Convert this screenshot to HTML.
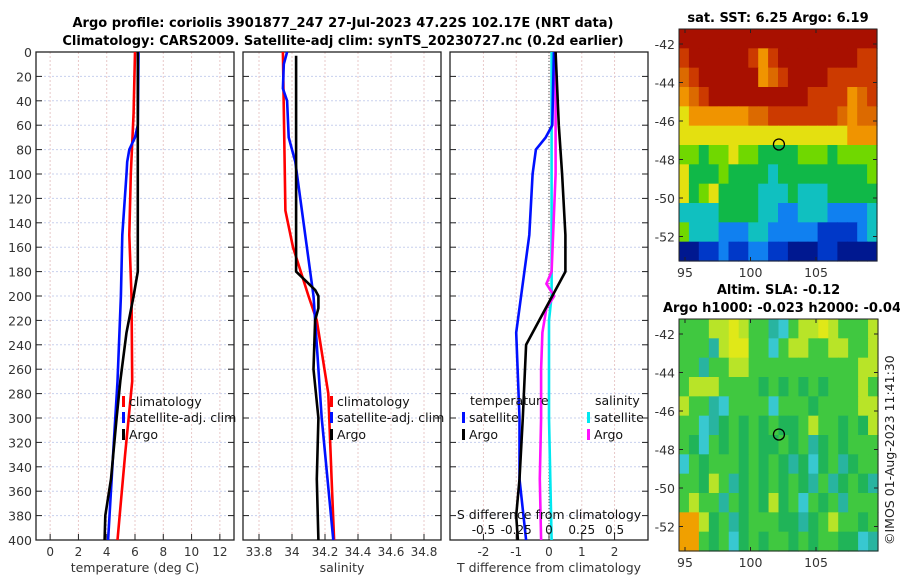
<!DOCTYPE html>
<html><head><meta charset="utf-8">
<style>
html,body{margin:0;padding:0;background:#fff;}
svg{display:block;font-family:"DejaVu Sans","Liberation Sans",sans-serif;}
</style></head>
<body>
<svg id="chart" width="900" height="580" viewBox="0 0 900 580" xmlns="http://www.w3.org/2000/svg">
<g font-weight="bold" font-size="13" text-anchor="middle" fill="#000">
<text x="343" y="27">Argo profile: coriolis 3901877_247 27-Jul-2023 47.22S 102.17E (NRT data)</text>
<text x="343" y="45">Climatology: CARS2009. Satellite-adj clim: synTS_20230727.nc (0.2d earlier)</text>
</g>
<g id="plots"></g>
</svg>
<script>
// ---- data ----
const tClimDepth=[0,50,100,150,200,270,330,400];
const tClim=[6.0,5.9,5.7,5.6,5.75,5.8,5.3,4.76];
const tSatDepth=[0,60,70,80,90,100,150,200,270,320,400];
const tSat=[6.25,6.2,6.0,5.6,5.45,5.4,5.1,5.0,4.76,4.5,4.1];
const tArgoDepth=[0,180,200,230,269,300,350,380,400];
const tArgo=[6.2,6.2,5.9,5.4,4.97,4.7,4.3,3.9,3.85];
const sClimDepth=[0,130,160,200,220,280,350,400];
const sClim=[33.945,33.96,34.006,34.1,34.15,34.22,34.24,34.255];
const sSatDepth=[0,10,30,40,70,90,200,300,400];
const sSat=[33.97,33.95,33.945,33.97,33.98,34.02,34.13,34.18,34.25];
const sArgoDepth=[3,180,195,200,210,220,260,300,350,400];
const sArgo=[34.025,34.025,34.14,34.16,34.16,34.14,34.13,34.16,34.15,34.16];
const dTSatDepth=[0,60,70,80,100,150,200,230,300,350,400];
const dTSat=[0.15,0.1,-0.1,-0.4,-0.5,-0.6,-0.85,-1.0,-0.9,-0.9,-0.7];
const dTArgoDepth=[0,60,100,150,180,200,220,240,300,350,380,400];
const dTArgo=[0.2,0.3,0.4,0.5,0.5,0.1,-0.3,-0.7,-0.8,-0.9,-1.0,-0.95];
const dSArgoDepth=[0,100,180,190,200,210,230,260,300,350,400];
const dSArgo=[0.05,0.05,0.02,-0.02,0.04,-0.02,-0.05,-0.06,-0.06,-0.07,-0.06];
const dSSatDepth=[0,200,220,300,400];
const dSSat=[0.02,0.02,0.0,0.0,0.02];
const depthTicks=[0,20,40,60,80,100,120,140,160,180,200,220,240,260,280,300,320,340,360,380,400];
const tTicks=[0,2,4,6,8,10,12];
const sTicks=[33.8,34,34.2,34.4,34.6,34.8];
const sTickLabels=["33.8","34","34.2","34.4","34.6","34.8"];
const dTTicks=[-2,-1,0,1,2];
const dSTicks=[-0.5,-0.25,0,0.25,0.5];
const dSTickLabels=["-0.5","-0.25","0","0.25","0.5"];
const mapLonTicks=[95,100,105];
const mapLatTicks=[-42,-44,-46,-48,-50,-52];
const sstGrid=[
"RRRRRRRRRRRRRRRRRRRR",
"rRRRRRRrOrRRRRRRRRrr",
"orRRRRRROorRRRRrrrrr",
"OorRRRRRRRRRRrrrrOor",
"yOOOOOOoorrrrrrroOoo",
"yyyyyyyyyyyyyyyyyOOO",
"ggGggyggGGGGgggGgggg",
"yGGGgGGGGcGGGGGGGGGg",
"yGgyGGGGcccGcccGGGGG",
"ccccGGGGccbbcccbbbbc",
"gcccbbbccbbbbbBBBBbc",
"NNBBbBBbbBBNNNBBNNNN"];
const slaGrid=[
"gggyyYyggtcgyyYygggy",
"gggtyYYggcgyyggyyggy",
"ggtggyygggggggggggyy",
"gyyyggggGgGgGgGgggyg",
"yggtcggggcgggGggggyy",
"ggctGgGgGgGGgyggGgGy",
"gGcgGgGgGGgGgtGgGggg",
"cgGgggGgGgGtGcGgtGgg",
"ggGygtGgGgGgGtgtGgGt",
"gyggtgGgGyGgcgGgtggg",
"ooyGgtGgggGGtGgyggGg",
"oogGgcGgGggGgGggGGct"];
const argoLon=102.17, argoLat=-47.22;

const palette={R:"#a81000",r:"#cc3a00",o:"#dc6a00",O:"#f09400",y:"#e4e010",g:"#70d800",G:"#10b848",c:"#10c0c0",b:"#1080f0",B:"#0038c8",N:"#001890"};
const paletteSla={g:"#40c840",G:"#20b458",y:"#b8e428",Y:"#e0e818",t:"#28b4a0",c:"#38c8d0",o:"#f0a000"};

const NS="http://www.w3.org/2000/svg";
const root=document.getElementById('plots');
function mk(tag,attrs,parent){const e=document.createElementNS(NS,tag);for(const k in attrs)e.setAttribute(k,attrs[k]);(parent||root).appendChild(e);return e;}
function txt(s,attrs,parent){const e=mk('text',attrs,parent);e.textContent=s;return e;}

const Y0=52,Y1=540;
function yD(d){return Y0+(d/400)*(Y1-Y0);}

function panel(name,x0,x1,dom,ticks,labels,showDepthLabels){
  const g=mk('g',{});
  
  
  const sx=v=>x0+(v-dom[0])/(dom[1]-dom[0])*(x1-x0);
  depthTicks.forEach(d=>{mk('line',{x1:x0,x2:x1,y1:yD(d),y2:yD(d),stroke:"#c8d0ee","stroke-width":1,"stroke-dasharray":"2,2"},g);});
  ticks.forEach(v=>{mk('line',{x1:sx(v),x2:sx(v),y1:Y0,y2:Y1,stroke:"#e8c8c8","stroke-width":1,"stroke-dasharray":"2,2"},g);});
  mk('rect',{x:x0,y:Y0,width:x1-x0,height:Y1-Y0,fill:"none",stroke:"#222","stroke-width":1.3},g);
  depthTicks.forEach(d=>{
    mk('line',{x1:x0,x2:x0+6,y1:yD(d),y2:yD(d),stroke:"#222"},g);
    mk('line',{x1:x1-6,x2:x1,y1:yD(d),y2:yD(d),stroke:"#222"},g);
    if(showDepthLabels)txt(String(d),{x:x0-4,y:yD(d)+5,"text-anchor":"end","font-size":12.5,fill:"#333"},g);
  });
  ticks.forEach((v,i)=>{
    mk('line',{x1:sx(v),x2:sx(v),y1:Y1,y2:Y1-6,stroke:"#222"},g);
    if(labels)txt(labels[i],{x:sx(v),y:Y1+16,"text-anchor":"middle","font-size":12,fill:"#333"},g);
  });
  return {g,sx};
}
function series(p,name,depths,vals,color,w){
  const pts=depths.map((d,i)=>p.sx(vals[i]).toFixed(1)+","+yD(d).toFixed(1)).join(" ");
  const l=mk('polyline',{points:pts,fill:"none",stroke:color,"stroke-width":w||2.6,"stroke-linejoin":"round"},p.g);
  
  
}
function legendEntry(g,x,y,color,label,name){
  const e=mk('g',{},g);
  
  
  mk('rect',{x:x,y:y-10,width:3,height:11,fill:color},e);
  txt(label,{x:x+7,y:y,"font-size":12.5,fill:"#111"},e);
}

// Panel 1
const p1=panel('temperature-panel',36,234,[-1,13],tTicks,tTicks.map(String),true);
series(p1,'temp-climatology-line',tClimDepth,tClim,"#ff0000");
series(p1,'temp-satellite-line',tSatDepth,tSat,"#0010ff");
series(p1,'temp-argo-line',tArgoDepth,tArgo,"#000");
txt("temperature (deg C)",{x:135,y:572,"text-anchor":"middle","font-size":12.5,fill:"#333"},p1.g);
legendEntry(p1.g,122,406,"#ff0000","climatology","legend-climatology");
legendEntry(p1.g,122,422,"#0010ff","satellite-adj. clim","legend-satellite-adj");
legendEntry(p1.g,122,439,"#000","Argo","legend-argo");

// Panel 2
const p2=panel('salinity-panel',243,441,[33.703,34.903],sTicks,sTickLabels,false);
series(p2,'sal-climatology-line',sClimDepth,sClim,"#ff0000");
series(p2,'sal-satellite-line',sSatDepth,sSat,"#0010ff");
series(p2,'sal-argo-line',sArgoDepth,sArgo,"#000");
txt("salinity",{x:342,y:572,"text-anchor":"middle","font-size":12.5,fill:"#333"},p2.g);
legendEntry(p2.g,330,406,"#ff0000","climatology","legend-sal-climatology");
legendEntry(p2.g,330,422,"#0010ff","satellite-adj. clim","legend-sal-satellite-adj");
legendEntry(p2.g,330,439,"#000","Argo","legend-sal-argo");

// Panel 3
const p3=panel('difference-panel',450,648,[-3.02,3.02],dTTicks,dTTicks.map(String),false);
mk('line',{x1:p3.sx(0),x2:p3.sx(0),y1:Y0,y2:Y1,stroke:"#555","stroke-width":1,"stroke-dasharray":"1,2"},p3.g);
const p3s={g:p3.g,sx:v=>p3.sx(v*4)};
series(p3s,'sal-satellite-diff-line',dSSatDepth,dSSat,"#00e8f0");
series(p3s,'sal-argo-diff-line',dSArgoDepth,dSArgo,"#ff10ff");
series(p3,'temp-satellite-diff-line',dTSatDepth,dTSat,"#0010ff");
series(p3,'temp-argo-diff-line',dTArgoDepth,dTArgo,"#000");
dSTicks.forEach((v,i)=>{txt(dSTickLabels[i],{x:p3s.sx(v),y:534,"text-anchor":"middle","font-size":12,fill:"#111"},p3.g);});
txt("S difference from climatology",{x:549,y:519,"text-anchor":"middle","font-size":12.5,fill:"#111"},p3.g);
txt("T difference from climatology",{x:549,y:572,"text-anchor":"middle","font-size":12.5,fill:"#333"},p3.g);
txt("temperature",{x:470,y:405,"font-size":12.5,fill:"#111"},p3.g);
txt("salinity",{x:595,y:405,"font-size":12.5,fill:"#111"},p3.g);
legendEntry(p3.g,462,422,"#0010ff","satellite","legend-t-satellite");
legendEntry(p3.g,462,439,"#000","Argo","legend-t-argo");
legendEntry(p3.g,587,422,"#00e8f0","satellite","legend-s-satellite");
legendEntry(p3.g,587,439,"#ff10ff","Argo","legend-s-argo");

// Maps
function map(name,x0,y0,w,h,grid,pal,title1,title2){
  const g=mk('g',{});
  
  
  const rows=grid.length,cols=grid[0].length;
  const cw=w/cols,ch=h/rows;
  grid.forEach((row,r)=>{for(let c=0;c<cols;c++){
    mk('rect',{x:(x0+c*cw).toFixed(2),y:(y0+r*ch).toFixed(2),width:(cw+0.6).toFixed(2),height:(ch+0.6).toFixed(2),fill:pal[row[c]]},g);
  }});
  mk('rect',{x:x0,y:y0,width:w,height:h,fill:"none",stroke:"#222","stroke-width":1},g);
  const lon=v=>x0+6+(v-95)*13.1, lat=v=>y0+15+(-42-v)*19.25;
  mapLonTicks.forEach(v=>{
    mk('line',{x1:lon(v),x2:lon(v),y1:y0+h,y2:y0+h-4,stroke:"#222"},g);
    mk('line',{x1:lon(v),x2:lon(v),y1:y0,y2:y0+4,stroke:"#222"},g);
    txt(String(v),{x:lon(v),y:y0+h+16,"text-anchor":"middle","font-size":12.5,fill:"#333"},g);
  });
  mapLatTicks.forEach(v=>{
    mk('line',{x1:x0,x2:x0+4,y1:lat(v),y2:lat(v),stroke:"#222"},g);
    mk('line',{x1:x0+w,x2:x0+w-4,y1:lat(v),y2:lat(v),stroke:"#222"},g);
    txt(String(v),{x:x0-4,y:lat(v)+5,"text-anchor":"end","font-size":12.5,fill:"#333"},g);
  });
  const m=mk('circle',{cx:lon(argoLon),cy:lat(argoLat),r:5.5,fill:"none",stroke:"#000","stroke-width":1.3},g);
  
  
  if(title1)txt(title1,{x:x0+w/2,y:y0-(title2?25:7),"text-anchor":"middle","font-size":13,"font-weight":"bold",fill:"#000"},g);
  if(title2)txt(title2,{x:x0+w/2+8,y:y0-7,"text-anchor":"middle","font-size":13,"font-weight":"bold",fill:"#000"},g);
}
map('sst-map',679,29,198,232,sstGrid,palette,"sat. SST: 6.25 Argo: 6.19",null);
map('sla-map',679,319,199,232,slaGrid,paletteSla,"Altim. SLA: -0.12","Argo h1000: -0.023 h2000: -0.044");
const st=txt("©IMOS 01-Aug-2023 11:41:30",{x:0,y:0,"font-size":12.5,fill:"#222",transform:"translate(894,545) rotate(-90)"});


</script>
</body></html>
